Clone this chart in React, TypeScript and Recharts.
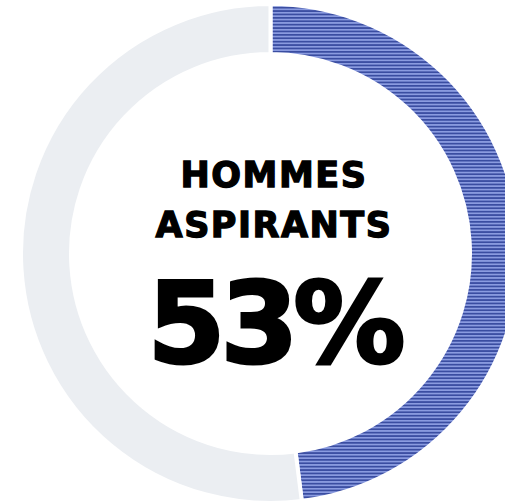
import { PieChart, Pie, Cell } from "recharts"

const segments = ["Hommes aspirants", "Reste"]
const shares = [48, 52]
const titleLines = ["HOMMES", "ASPIRANTS"]
const headline = "53%"

const data = segments.map((name, i) => ({ name, value: shares[i] }))

const CX = 270.5
const CY = 253.5

export default function App() {
  return (
    <div style={{ position: "absolute", left: 0, top: 0, width: 505, height: 502, background: "#fff" }}>
      <PieChart width={505} height={502} margin={{ top: 0, right: 0, bottom: 0, left: 0 }}>
        <defs>
          <pattern id="stripes" patternUnits="userSpaceOnUse" width="10" height="3.4">
            <rect x="0" y="0" width="10" height="3.4" fill="#8a9be0" />
            <rect x="0" y="0" width="10" height="1.7" fill="#3a4da1" />
          </pattern>
        </defs>
        <Pie
          data={data}
          dataKey="value"
          nameKey="name"
          cx={CX}
          cy={CY}
          innerRadius={199.5}
          outerRadius={249.5}
          startAngle={90}
          endAngle={-270}
          stroke="#fff"
          strokeWidth={4}
          isAnimationActive={false}
        >
          <Cell fill="url(#stripes)" />
          <Cell fill="#ebeef2" />
        </Pie>
        <text x={274} y={187} textAnchor="middle" fontFamily="DejaVu Sans" fontWeight="bold" fontSize={35} letterSpacing={1.5} fill="#000" stroke="#000" strokeWidth={1.3}>
          {titleLines[0]}
        </text>
        <text x={274} y={237} textAnchor="middle" fontFamily="DejaVu Sans" fontWeight="bold" fontSize={35} letterSpacing={1.5} fill="#000" stroke="#000" strokeWidth={1.3}>
          {titleLines[1]}
        </text>
        <text x={274} y={362} textAnchor="middle" fontFamily="DejaVu Sans" fontWeight="bold" fontSize={112} letterSpacing={-5} fill="#000" stroke="#000" strokeWidth={3}>
          {headline}
        </text>
      </PieChart>
    </div>
  )
}
